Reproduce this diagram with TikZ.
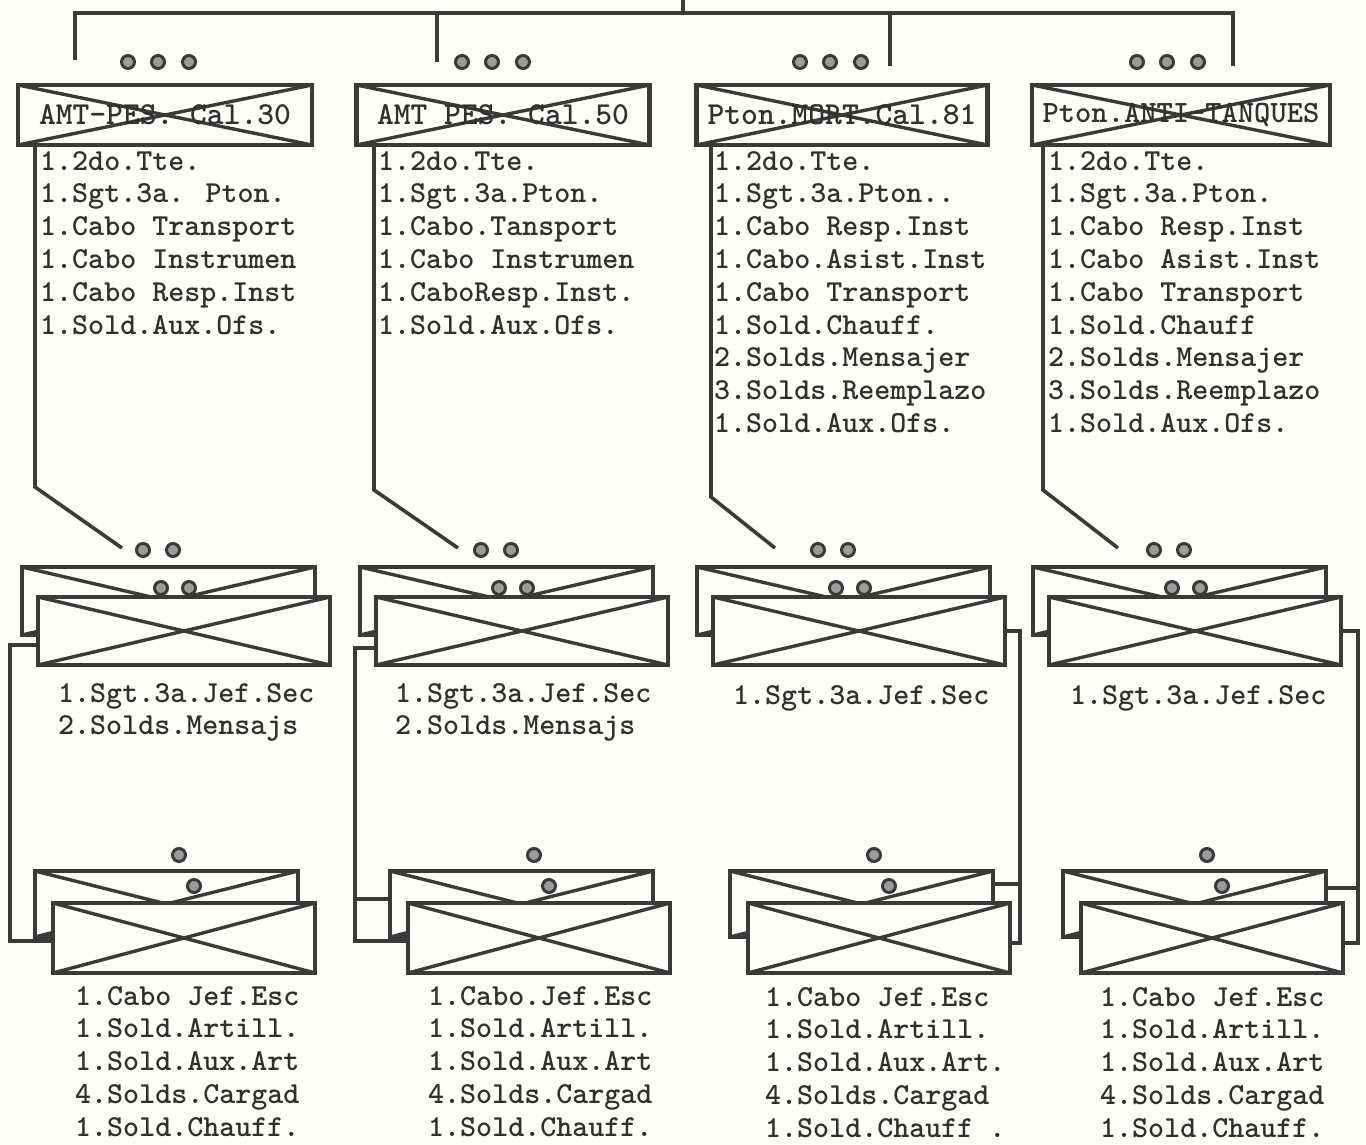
\documentclass[tikz,border=0pt]{standalone}
\usepackage{tikz}
\usetikzlibrary{positioning,calc}
\definecolor{Ink}{HTML}{3A3A3A}
\definecolor{Type}{HTML}{303030}
\definecolor{Paper}{HTML}{FEFEFB}

\begin{document}
\begin{tikzpicture}[x=1pt,y=-1pt,
  typed/.style={font=\ttfamily\bfseries\fontsize{30.5}{32.8}\selectfont,text=Type,inner sep=0pt,align=left},
  unitbox/.style={draw=Ink,line width=4.2pt,fill=Paper,inner sep=0pt,
    path picture={\draw[Ink,line width=3.4pt] (path picture bounding box.north west) -- (path picture bounding box.south east)
      (path picture bounding box.south west) -- (path picture bounding box.north east);}},
  link/.style={draw=Ink,line width=3.6pt},
  ring/.style={circle,draw=Ink,fill=Ink!50,line width=3pt,inner sep=0pt,minimum size=13pt}]
  \fill[Paper] (0,0) rectangle (1366,1145);
  \useasboundingbox (0,0) rectangle (1366,1145);

  % platoons
  \node[unitbox,typed,font=\ttfamily\bfseries\fontsize{32}{34}\selectfont,minimum width=294pt,minimum height=60pt] (amt30) at (165,115) {AMT-PES. Cal.30};
  \node[unitbox,typed,font=\ttfamily\bfseries\fontsize{32}{34}\selectfont,minimum width=293pt,minimum height=60pt] (amt50) at (503,115) {AMT PES. Cal.50};
  \node[unitbox,typed,font=\ttfamily\bfseries\fontsize{32}{34}\selectfont,minimum width=291pt,minimum height=60pt] (mort) at (842,115) {Pton.MORT.Cal.81};
  \node[unitbox,typed,font=\ttfamily\bfseries\fontsize{31}{34}\selectfont,minimum width=298pt,minimum height=60pt] (antit) at (1181,115) {Pton.ANTI-TANQUES};
  \foreach \n/\x in {amt30/128,amt50/462,mort/800,antit/1137}{
    \node[ring] (\n-r1) at (\x,62) {};
    \node[ring] (\n-r2) at (\x+30,62) {};
    \node[ring] (\n-r3) at (\x+61,62) {};
  }

  % command line
  \coordinate (cmd) at (683,0);
  \coordinate (bus) at (683,13);
  \coordinate (d1) at (75,60);
  \coordinate (d2) at (437,62);
  \coordinate (d3) at (890,66);
  \coordinate (d4) at (1233,66);
  \draw[link] (cmd) -- (bus);
  \draw[link] (d1) -- (d1 |- bus) -- (d4 |- bus) -- (d4);
  \draw[link] (d2) -- (d2 |- bus);
  \draw[link] (d3) -- (d3 |- bus);

  % platoon staff
  \node[typed,anchor=north west] (list30) at (40,151) {1.2do.Tte.\\1.Sgt.3a. Pton.\\1.Cabo Transport\\1.Cabo Instrumen\\1.Cabo Resp.Inst\\1.Sold.Aux.Ofs.};
  \node[typed,anchor=north west] (list50) at (378,151) {1.2do.Tte.\\1.Sgt.3a.Pton.\\1.Cabo.Tansport\\1.Cabo Instrumen\\1.CaboResp.Inst.\\1.Sold.Aux.Ofs.};
  \node[typed,anchor=north west] (listmort) at (714,151) {1.2do.Tte.\\1.Sgt.3a.Pton..\\1.Cabo Resp.Inst\\1.Cabo.Asist.Inst\\1.Cabo Transport\\1.Sold.Chauff.\\2.Solds.Mensajer\\3.Solds.Reemplazo\\1.Sold.Aux.Ofs.};
  \node[typed,anchor=north west] (listantit) at (1048,151) {1.2do.Tte.\\1.Sgt.3a.Pton.\\1.Cabo Resp.Inst\\1.Cabo Asist.Inst\\1.Cabo Transport\\1.Sold.Chauff\\2.Solds.Mensajer\\3.Solds.Reemplazo\\1.Sold.Aux.Ofs.};

  % sections
  \foreach \i/\x in {1/22,2/360,3/697,4/1033}{
    \node[unitbox,minimum width=293pt,minimum height=68pt] (sec\i-b) at (\x+146.5,601) {};
    \node[unitbox,minimum width=292pt,minimum height=68pt] (sec\i-f) at (\x+162,631) {};
    \node[ring] (sec\i-r1) at (\x+121,550) {};
    \node[ring] (sec\i-r2) at (\x+151,550) {};
    \node[ring] (sec\i-r3) at (\x+139,588) {};
    \node[ring] (sec\i-r4) at (\x+167,588) {};
  }
  \coordinate (k1) at (35,487);   \coordinate (e1) at (122,548);
  \coordinate (k2) at (374,490);  \coordinate (e2) at (458,548);
  \coordinate (k3) at (711,497);  \coordinate (e3) at (775,548);
  \coordinate (k4) at (1043,490); \coordinate (e4) at (1118,548);
  \draw[link] (amt30.south -| k1) -- (k1) -- (e1);
  \draw[link] (amt50.south -| k2) -- (k2) -- (e2);
  \draw[link] (mort.south -| k3) -- (k3) -- (e3);
  \draw[link] (antit.south -| k4) -- (k4) -- (e4);

  \node[typed,anchor=north west] (sec1-t) at (58,683) {1.Sgt.3a.Jef.Sec\\2.Solds.Mensajs};
  \node[typed,anchor=north west] (sec2-t) at (395,683) {1.Sgt.3a.Jef.Sec\\2.Solds.Mensajs};
  \node[typed,anchor=north west] (sec3-t) at (733,685) {1.Sgt.3a.Jef.Sec};
  \node[typed,anchor=north west] (sec4-t) at (1070,685) {1.Sgt.3a.Jef.Sec};

  % squads
  \foreach \i/\x in {1/35,2/390,3/730,4/1063}{
    \node[unitbox,minimum width=263pt,minimum height=66pt] (tri\i-b) at (\x+131.5,904) {};
    \node[unitbox,minimum width=262pt,minimum height=70pt] (tri\i-f) at (\x+149,938) {};
    \node[ring] (tri\i-r1) at (\x+144,855) {};
    \node[ring] (tri\i-r2) at (\x+159,886) {};
  }
  \draw[link] ([yshift=-14pt]sec1-f.west) -- ++(-26,0) |- ([yshift=-3pt]tri1-f.west);
  \draw[link] ([yshift=-17pt]sec2-f.west) -- ++(-19,0) |- ([yshift=-3pt]tri2-f.west);
  \draw[link] ([yshift=5pt]tri2-b.west) -- ++(-33,0);
  \draw[link] (sec3-f.east) -- ++(13,0) |- ([yshift=-5pt]tri3-f.east);
  \draw[link] ([yshift=20pt]tri3-b.east) -- ++(25,0);
  \draw[link] (sec4-f.east) -- ++(15,0) |- ([yshift=-5pt]tri4-f.east);
  \draw[link] ([yshift=16pt]tri4-b.east) -- ++(30,0);

  \node[typed,anchor=north west] (tri1-t) at (75,986) {1.Cabo Jef.Esc\\1.Sold.Artill.\\1.Sold.Aux.Art\\4.Solds.Cargad\\1.Sold.Chauff.};
  \node[typed,anchor=north west] (tri2-t) at (428,986) {1.Cabo.Jef.Esc\\1.Sold.Artill.\\1.Sold.Aux.Art\\4.Solds.Cargad\\1.Sold.Chauff.};
  \node[typed,anchor=north west] (tri3-t) at (765,987) {1.Cabo Jef.Esc\\1.Sold.Artill.\\1.Sold.Aux.Art.\\4.Solds.Cargad\\1.Sold.Chauff .};
  \node[typed,anchor=north west] (tri4-t) at (1100,987) {1.Cabo Jef.Esc\\1.Sold.Artill.\\1.Sold.Aux.Art\\4.Solds.Cargad\\1.Sold.Chauff.};
\end{tikzpicture}
\end{document}
